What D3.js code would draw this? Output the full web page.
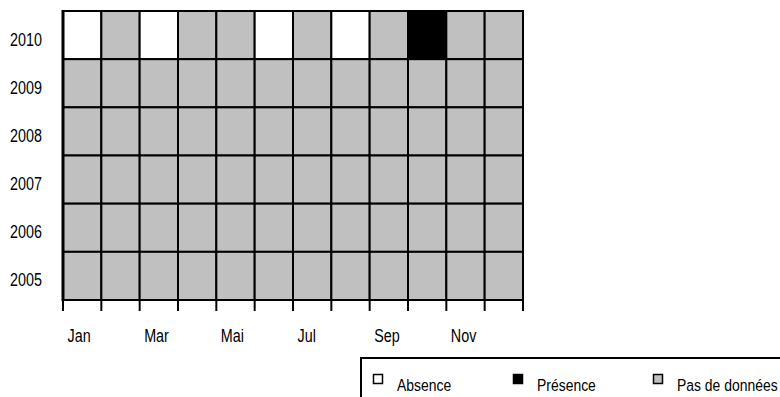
<!DOCTYPE html>
<html>
<head>
<meta charset="utf-8">
<script src="https://cdn.jsdelivr.net/npm/d3@7"></script>
<style>
  html, body { margin: 0; padding: 0; background: #fff; }
  text { font-family: "Liberation Sans", Arial, sans-serif; fill: #000; }
</style>
</head>
<body>
<svg id="chart" width="780" height="397"></svg>
<script>
const months = ["Jan","Fév","Mar","Avr","Mai","Juin","Jul","Aoû","Sep","Oct","Nov","Déc"];
const monthLabels = ["Jan","","Mar","","Mai","","Jul","","Sep","","Nov",""];
const years = ["2010","2009","2008","2007","2006","2005"];
// status codes: "A" = Absence, "P" = Présence, "N" = Pas de données
const status2010 = ["A","N","A","N","N","A","N","A","N","P","N","N"];
const status2009 = ["N","N","N","N","N","N","N","N","N","N","N","N"];
const status2008 = ["N","N","N","N","N","N","N","N","N","N","N","N"];
const status2007 = ["N","N","N","N","N","N","N","N","N","N","N","N"];
const status2006 = ["N","N","N","N","N","N","N","N","N","N","N","N"];
const status2005 = ["N","N","N","N","N","N","N","N","N","N","N","N"];
const legendKeys = ["A","P","N"];
const legendLabels = ["Absence","Présence","Pas de données"];

const statusByYear = {"2010": status2010, "2009": status2009, "2008": status2008,
  "2007": status2007, "2006": status2006, "2005": status2005};
const colors = {A: "#ffffff", P: "#000000", N: "#c0c0c0"};
const SX = 0.82; // narrow font emulation

const svg = d3.select("#chart");
const x = d3.scaleBand().domain(months).range([63, 523]).padding(0);
const y = d3.scaleBand().domain(years).range([11, 300]).padding(0);

const cells = [];
years.forEach(yr => statusByYear[yr].forEach((s, i) => cells.push({year: yr, month: months[i], s})));

svg.append("g").selectAll("rect").data(cells).join("rect")
  .attr("x", d => x(d.month))
  .attr("y", d => y(d.year))
  .attr("width", x.bandwidth())
  .attr("height", y.bandwidth())
  .attr("fill", d => colors[d.s])
  .attr("stroke", "#000")
  .attr("stroke-width", 2);

// left axis line (thicker)
svg.append("line").attr("x1", 63).attr("x2", 63).attr("y1", 10).attr("y2", 301)
  .attr("stroke", "#000").attr("stroke-width", 3);

// bottom ticks at band boundaries
const bounds = months.map(m => x(m)).concat([x(months[months.length-1]) + x.bandwidth()]);
svg.append("g").selectAll("line").data(bounds).join("line")
  .attr("x1", d => d).attr("x2", d => d)
  .attr("y1", 300).attr("y2", 311)
  .attr("stroke", "#000").attr("stroke-width", 2);

// month labels
svg.append("g").selectAll("text").data(months.map((m, i) => ({m, label: monthLabels[i]})).filter(d => d.label))
  .join("text")
  .attr("transform", d => `translate(${x(d.m) + 4.5},342) scale(${SX},1)`)
  .attr("font-size", 17.5)
  .text(d => d.label);

// year labels
svg.append("g").selectAll("text").data(years).join("text")
  .attr("transform", d => `translate(42,${y(d) + y.bandwidth()/2 + 10.5}) scale(${SX},1)`)
  .attr("text-anchor", "end")
  .attr("font-size", 17.5)
  .text(d => d);

// legend
const lg = svg.append("g");
lg.append("rect").attr("x", 361).attr("y", 358).attr("width", 440).attr("height", 60)
  .attr("fill", "#fff").attr("stroke", "#000").attr("stroke-width", 2);
const legX = [373.5, 513.5, 653.5];
const item = lg.selectAll("g.item").data(legendKeys).join("g").attr("class", "item");
item.append("rect")
  .attr("x", (d, i) => legX[i]).attr("y", 374.5)
  .attr("width", 9).attr("height", 9)
  .attr("fill", d => colors[d]).attr("stroke", "#000").attr("stroke-width", 1.5);
item.append("text")
  .attr("transform", (d, i) => `translate(${legX[i] + 23.5},391) scale(${SX},1)`)
  .attr("font-size", 17)
  .text((d, i) => legendLabels[i]);
</script>
</body>
</html>
